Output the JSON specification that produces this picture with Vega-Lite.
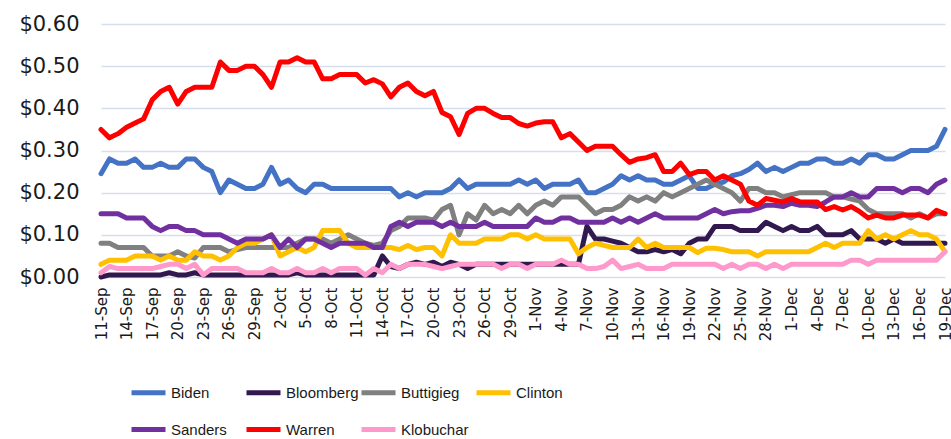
{
  "$schema": "https://vega.github.io/schema/vega-lite/v6.json",
  "width": 844,
  "height": 253,
  "autosize": {"type": "none"},
  "padding": {"left": 101, "top": 24, "right": 6, "bottom": 162},
  "background": "white",
  "config": {"view": {"stroke": null}, "font": "DejaVu Sans"},
  "data": {"values": [
    {"date":"11-Sep","Biden":0.245,"Bloomberg":0,"Buttigieg":0.08,"Clinton":0.03,"Sanders":0.15,"Warren":0.35,"Klobuchar":0.01},
    {"date":"12-Sep","Biden":0.28,"Bloomberg":0.005,"Buttigieg":0.08,"Clinton":0.04,"Sanders":0.15,"Warren":0.33,"Klobuchar":0.025},
    {"date":"13-Sep","Biden":0.27,"Bloomberg":0.005,"Buttigieg":0.07,"Clinton":0.04,"Sanders":0.15,"Warren":0.34,"Klobuchar":0.02},
    {"date":"14-Sep","Biden":0.27,"Bloomberg":0.005,"Buttigieg":0.07,"Clinton":0.04,"Sanders":0.14,"Warren":0.355,"Klobuchar":0.02},
    {"date":"15-Sep","Biden":0.28,"Bloomberg":0.005,"Buttigieg":0.07,"Clinton":0.05,"Sanders":0.14,"Warren":0.365,"Klobuchar":0.02},
    {"date":"16-Sep","Biden":0.26,"Bloomberg":0.005,"Buttigieg":0.07,"Clinton":0.05,"Sanders":0.14,"Warren":0.375,"Klobuchar":0.02},
    {"date":"17-Sep","Biden":0.26,"Bloomberg":0.005,"Buttigieg":0.05,"Clinton":0.05,"Sanders":0.12,"Warren":0.42,"Klobuchar":0.02},
    {"date":"18-Sep","Biden":0.27,"Bloomberg":0.005,"Buttigieg":0.05,"Clinton":0.04,"Sanders":0.11,"Warren":0.44,"Klobuchar":0.025},
    {"date":"19-Sep","Biden":0.26,"Bloomberg":0.01,"Buttigieg":0.05,"Clinton":0.05,"Sanders":0.12,"Warren":0.45,"Klobuchar":0.03},
    {"date":"20-Sep","Biden":0.26,"Bloomberg":0.005,"Buttigieg":0.06,"Clinton":0.04,"Sanders":0.12,"Warren":0.41,"Klobuchar":0.03},
    {"date":"21-Sep","Biden":0.28,"Bloomberg":0.005,"Buttigieg":0.05,"Clinton":0.04,"Sanders":0.11,"Warren":0.44,"Klobuchar":0.02},
    {"date":"22-Sep","Biden":0.28,"Bloomberg":0.01,"Buttigieg":0.045,"Clinton":0.06,"Sanders":0.11,"Warren":0.45,"Klobuchar":0.03},
    {"date":"23-Sep","Biden":0.26,"Bloomberg":0.005,"Buttigieg":0.07,"Clinton":0.05,"Sanders":0.10,"Warren":0.45,"Klobuchar":0.005},
    {"date":"24-Sep","Biden":0.25,"Bloomberg":0.005,"Buttigieg":0.07,"Clinton":0.05,"Sanders":0.10,"Warren":0.45,"Klobuchar":0.02},
    {"date":"25-Sep","Biden":0.20,"Bloomberg":0.005,"Buttigieg":0.07,"Clinton":0.04,"Sanders":0.10,"Warren":0.51,"Klobuchar":0.02},
    {"date":"26-Sep","Biden":0.23,"Bloomberg":0.005,"Buttigieg":0.06,"Clinton":0.05,"Sanders":0.09,"Warren":0.49,"Klobuchar":0.02},
    {"date":"27-Sep","Biden":0.22,"Bloomberg":0.005,"Buttigieg":0.065,"Clinton":0.07,"Sanders":0.08,"Warren":0.49,"Klobuchar":0.02},
    {"date":"28-Sep","Biden":0.21,"Bloomberg":0.005,"Buttigieg":0.07,"Clinton":0.08,"Sanders":0.09,"Warren":0.50,"Klobuchar":0.01},
    {"date":"29-Sep","Biden":0.21,"Bloomberg":0.005,"Buttigieg":0.07,"Clinton":0.08,"Sanders":0.09,"Warren":0.50,"Klobuchar":0.01},
    {"date":"30-Sep","Biden":0.22,"Bloomberg":0.005,"Buttigieg":0.07,"Clinton":0.09,"Sanders":0.09,"Warren":0.48,"Klobuchar":0.01},
    {"date":"1-Oct","Biden":0.26,"Bloomberg":0.005,"Buttigieg":0.07,"Clinton":0.10,"Sanders":0.10,"Warren":0.45,"Klobuchar":0.02},
    {"date":"2-Oct","Biden":0.22,"Bloomberg":0.005,"Buttigieg":0.07,"Clinton":0.05,"Sanders":0.07,"Warren":0.51,"Klobuchar":0.01},
    {"date":"3-Oct","Biden":0.23,"Bloomberg":0.005,"Buttigieg":0.07,"Clinton":0.06,"Sanders":0.09,"Warren":0.51,"Klobuchar":0.01},
    {"date":"4-Oct","Biden":0.21,"Bloomberg":0.01,"Buttigieg":0.08,"Clinton":0.07,"Sanders":0.07,"Warren":0.52,"Klobuchar":0.02},
    {"date":"5-Oct","Biden":0.20,"Bloomberg":0.005,"Buttigieg":0.09,"Clinton":0.06,"Sanders":0.09,"Warren":0.51,"Klobuchar":0.01},
    {"date":"6-Oct","Biden":0.22,"Bloomberg":0.005,"Buttigieg":0.09,"Clinton":0.07,"Sanders":0.09,"Warren":0.51,"Klobuchar":0.01},
    {"date":"7-Oct","Biden":0.22,"Bloomberg":0.005,"Buttigieg":0.09,"Clinton":0.11,"Sanders":0.08,"Warren":0.47,"Klobuchar":0.02},
    {"date":"8-Oct","Biden":0.21,"Bloomberg":0.005,"Buttigieg":0.08,"Clinton":0.11,"Sanders":0.07,"Warren":0.47,"Klobuchar":0.01},
    {"date":"9-Oct","Biden":0.21,"Bloomberg":0.005,"Buttigieg":0.09,"Clinton":0.11,"Sanders":0.08,"Warren":0.48,"Klobuchar":0.02},
    {"date":"10-Oct","Biden":0.21,"Bloomberg":0.005,"Buttigieg":0.10,"Clinton":0.08,"Sanders":0.08,"Warren":0.48,"Klobuchar":0.02},
    {"date":"11-Oct","Biden":0.21,"Bloomberg":0.005,"Buttigieg":0.09,"Clinton":0.07,"Sanders":0.08,"Warren":0.48,"Klobuchar":0.02},
    {"date":"12-Oct","Biden":0.21,"Bloomberg":0.005,"Buttigieg":0.08,"Clinton":0.07,"Sanders":0.08,"Warren":0.46,"Klobuchar":0.005},
    {"date":"13-Oct","Biden":0.21,"Bloomberg":0.005,"Buttigieg":0.075,"Clinton":0.07,"Sanders":0.07,"Warren":0.468,"Klobuchar":0.02},
    {"date":"14-Oct","Biden":0.21,"Bloomberg":0.05,"Buttigieg":0.08,"Clinton":0.07,"Sanders":0.07,"Warren":0.458,"Klobuchar":0.01},
    {"date":"15-Oct","Biden":0.21,"Bloomberg":0.025,"Buttigieg":0.11,"Clinton":0.07,"Sanders":0.12,"Warren":0.427,"Klobuchar":0.03},
    {"date":"16-Oct","Biden":0.19,"Bloomberg":0.02,"Buttigieg":0.12,"Clinton":0.065,"Sanders":0.13,"Warren":0.45,"Klobuchar":0.02},
    {"date":"17-Oct","Biden":0.20,"Bloomberg":0.03,"Buttigieg":0.14,"Clinton":0.075,"Sanders":0.12,"Warren":0.46,"Klobuchar":0.03},
    {"date":"18-Oct","Biden":0.19,"Bloomberg":0.035,"Buttigieg":0.14,"Clinton":0.065,"Sanders":0.13,"Warren":0.44,"Klobuchar":0.03},
    {"date":"19-Oct","Biden":0.20,"Bloomberg":0.03,"Buttigieg":0.14,"Clinton":0.07,"Sanders":0.13,"Warren":0.43,"Klobuchar":0.03},
    {"date":"20-Oct","Biden":0.20,"Bloomberg":0.035,"Buttigieg":0.135,"Clinton":0.07,"Sanders":0.13,"Warren":0.44,"Klobuchar":0.025},
    {"date":"21-Oct","Biden":0.20,"Bloomberg":0.025,"Buttigieg":0.16,"Clinton":0.05,"Sanders":0.12,"Warren":0.39,"Klobuchar":0.02},
    {"date":"22-Oct","Biden":0.21,"Bloomberg":0.035,"Buttigieg":0.17,"Clinton":0.10,"Sanders":0.13,"Warren":0.38,"Klobuchar":0.025},
    {"date":"23-Oct","Biden":0.23,"Bloomberg":0.03,"Buttigieg":0.10,"Clinton":0.08,"Sanders":0.12,"Warren":0.338,"Klobuchar":0.03},
    {"date":"24-Oct","Biden":0.21,"Bloomberg":0.02,"Buttigieg":0.15,"Clinton":0.08,"Sanders":0.12,"Warren":0.388,"Klobuchar":0.03},
    {"date":"25-Oct","Biden":0.22,"Bloomberg":0.03,"Buttigieg":0.135,"Clinton":0.08,"Sanders":0.12,"Warren":0.40,"Klobuchar":0.03},
    {"date":"26-Oct","Biden":0.22,"Bloomberg":0.03,"Buttigieg":0.17,"Clinton":0.09,"Sanders":0.13,"Warren":0.40,"Klobuchar":0.03},
    {"date":"27-Oct","Biden":0.22,"Bloomberg":0.03,"Buttigieg":0.15,"Clinton":0.09,"Sanders":0.12,"Warren":0.388,"Klobuchar":0.03},
    {"date":"28-Oct","Biden":0.22,"Bloomberg":0.03,"Buttigieg":0.16,"Clinton":0.09,"Sanders":0.12,"Warren":0.378,"Klobuchar":0.02},
    {"date":"29-Oct","Biden":0.22,"Bloomberg":0.03,"Buttigieg":0.15,"Clinton":0.10,"Sanders":0.12,"Warren":0.378,"Klobuchar":0.03},
    {"date":"30-Oct","Biden":0.23,"Bloomberg":0.03,"Buttigieg":0.17,"Clinton":0.10,"Sanders":0.12,"Warren":0.364,"Klobuchar":0.03},
    {"date":"31-Oct","Biden":0.22,"Bloomberg":0.03,"Buttigieg":0.15,"Clinton":0.09,"Sanders":0.12,"Warren":0.358,"Klobuchar":0.02},
    {"date":"1-Nov","Biden":0.23,"Bloomberg":0.03,"Buttigieg":0.17,"Clinton":0.10,"Sanders":0.14,"Warren":0.365,"Klobuchar":0.03},
    {"date":"2-Nov","Biden":0.21,"Bloomberg":0.03,"Buttigieg":0.18,"Clinton":0.09,"Sanders":0.13,"Warren":0.368,"Klobuchar":0.03},
    {"date":"3-Nov","Biden":0.22,"Bloomberg":0.03,"Buttigieg":0.17,"Clinton":0.09,"Sanders":0.13,"Warren":0.368,"Klobuchar":0.03},
    {"date":"4-Nov","Biden":0.22,"Bloomberg":0.03,"Buttigieg":0.19,"Clinton":0.09,"Sanders":0.14,"Warren":0.33,"Klobuchar":0.04},
    {"date":"5-Nov","Biden":0.22,"Bloomberg":0.03,"Buttigieg":0.19,"Clinton":0.09,"Sanders":0.14,"Warren":0.34,"Klobuchar":0.03},
    {"date":"6-Nov","Biden":0.23,"Bloomberg":0.03,"Buttigieg":0.19,"Clinton":0.055,"Sanders":0.13,"Warren":0.32,"Klobuchar":0.03},
    {"date":"7-Nov","Biden":0.20,"Bloomberg":0.12,"Buttigieg":0.17,"Clinton":0.07,"Sanders":0.13,"Warren":0.30,"Klobuchar":0.02},
    {"date":"8-Nov","Biden":0.20,"Bloomberg":0.09,"Buttigieg":0.15,"Clinton":0.08,"Sanders":0.13,"Warren":0.31,"Klobuchar":0.02},
    {"date":"9-Nov","Biden":0.21,"Bloomberg":0.09,"Buttigieg":0.16,"Clinton":0.075,"Sanders":0.13,"Warren":0.31,"Klobuchar":0.025},
    {"date":"10-Nov","Biden":0.22,"Bloomberg":0.085,"Buttigieg":0.16,"Clinton":0.07,"Sanders":0.14,"Warren":0.31,"Klobuchar":0.04},
    {"date":"11-Nov","Biden":0.24,"Bloomberg":0.08,"Buttigieg":0.17,"Clinton":0.07,"Sanders":0.13,"Warren":0.29,"Klobuchar":0.02},
    {"date":"12-Nov","Biden":0.23,"Bloomberg":0.07,"Buttigieg":0.19,"Clinton":0.07,"Sanders":0.14,"Warren":0.272,"Klobuchar":0.025},
    {"date":"13-Nov","Biden":0.24,"Bloomberg":0.06,"Buttigieg":0.18,"Clinton":0.09,"Sanders":0.13,"Warren":0.28,"Klobuchar":0.03},
    {"date":"14-Nov","Biden":0.23,"Bloomberg":0.06,"Buttigieg":0.19,"Clinton":0.07,"Sanders":0.14,"Warren":0.283,"Klobuchar":0.02},
    {"date":"15-Nov","Biden":0.23,"Bloomberg":0.065,"Buttigieg":0.18,"Clinton":0.08,"Sanders":0.15,"Warren":0.29,"Klobuchar":0.02},
    {"date":"16-Nov","Biden":0.22,"Bloomberg":0.06,"Buttigieg":0.20,"Clinton":0.07,"Sanders":0.14,"Warren":0.25,"Klobuchar":0.02},
    {"date":"17-Nov","Biden":0.22,"Bloomberg":0.065,"Buttigieg":0.19,"Clinton":0.07,"Sanders":0.14,"Warren":0.25,"Klobuchar":0.03},
    {"date":"18-Nov","Biden":0.23,"Bloomberg":0.055,"Buttigieg":0.20,"Clinton":0.07,"Sanders":0.14,"Warren":0.27,"Klobuchar":0.03},
    {"date":"19-Nov","Biden":0.24,"Bloomberg":0.08,"Buttigieg":0.21,"Clinton":0.07,"Sanders":0.14,"Warren":0.243,"Klobuchar":0.03},
    {"date":"20-Nov","Biden":0.21,"Bloomberg":0.09,"Buttigieg":0.22,"Clinton":0.058,"Sanders":0.14,"Warren":0.25,"Klobuchar":0.03},
    {"date":"21-Nov","Biden":0.21,"Bloomberg":0.09,"Buttigieg":0.23,"Clinton":0.068,"Sanders":0.15,"Warren":0.25,"Klobuchar":0.03},
    {"date":"22-Nov","Biden":0.22,"Bloomberg":0.12,"Buttigieg":0.22,"Clinton":0.068,"Sanders":0.16,"Warren":0.23,"Klobuchar":0.03},
    {"date":"23-Nov","Biden":0.225,"Bloomberg":0.12,"Buttigieg":0.21,"Clinton":0.065,"Sanders":0.15,"Warren":0.24,"Klobuchar":0.02},
    {"date":"24-Nov","Biden":0.24,"Bloomberg":0.12,"Buttigieg":0.20,"Clinton":0.06,"Sanders":0.155,"Warren":0.23,"Klobuchar":0.03},
    {"date":"25-Nov","Biden":0.245,"Bloomberg":0.11,"Buttigieg":0.18,"Clinton":0.06,"Sanders":0.157,"Warren":0.22,"Klobuchar":0.02},
    {"date":"26-Nov","Biden":0.255,"Bloomberg":0.11,"Buttigieg":0.21,"Clinton":0.06,"Sanders":0.157,"Warren":0.18,"Klobuchar":0.03},
    {"date":"27-Nov","Biden":0.27,"Bloomberg":0.11,"Buttigieg":0.21,"Clinton":0.05,"Sanders":0.163,"Warren":0.17,"Klobuchar":0.03},
    {"date":"28-Nov","Biden":0.25,"Bloomberg":0.13,"Buttigieg":0.20,"Clinton":0.06,"Sanders":0.17,"Warren":0.186,"Klobuchar":0.02},
    {"date":"29-Nov","Biden":0.26,"Bloomberg":0.12,"Buttigieg":0.20,"Clinton":0.06,"Sanders":0.17,"Warren":0.182,"Klobuchar":0.03},
    {"date":"30-Nov","Biden":0.25,"Bloomberg":0.11,"Buttigieg":0.19,"Clinton":0.06,"Sanders":0.167,"Warren":0.178,"Klobuchar":0.02},
    {"date":"1-Dec","Biden":0.26,"Bloomberg":0.12,"Buttigieg":0.195,"Clinton":0.06,"Sanders":0.175,"Warren":0.186,"Klobuchar":0.03},
    {"date":"2-Dec","Biden":0.27,"Bloomberg":0.11,"Buttigieg":0.20,"Clinton":0.06,"Sanders":0.17,"Warren":0.178,"Klobuchar":0.03},
    {"date":"3-Dec","Biden":0.27,"Bloomberg":0.11,"Buttigieg":0.20,"Clinton":0.06,"Sanders":0.17,"Warren":0.178,"Klobuchar":0.03},
    {"date":"4-Dec","Biden":0.28,"Bloomberg":0.12,"Buttigieg":0.20,"Clinton":0.07,"Sanders":0.167,"Warren":0.178,"Klobuchar":0.03},
    {"date":"5-Dec","Biden":0.28,"Bloomberg":0.10,"Buttigieg":0.20,"Clinton":0.08,"Sanders":0.178,"Warren":0.16,"Klobuchar":0.03},
    {"date":"6-Dec","Biden":0.27,"Bloomberg":0.10,"Buttigieg":0.19,"Clinton":0.07,"Sanders":0.19,"Warren":0.167,"Klobuchar":0.03},
    {"date":"7-Dec","Biden":0.27,"Bloomberg":0.10,"Buttigieg":0.19,"Clinton":0.08,"Sanders":0.19,"Warren":0.159,"Klobuchar":0.03},
    {"date":"8-Dec","Biden":0.28,"Bloomberg":0.11,"Buttigieg":0.185,"Clinton":0.08,"Sanders":0.20,"Warren":0.167,"Klobuchar":0.04},
    {"date":"9-Dec","Biden":0.27,"Bloomberg":0.09,"Buttigieg":0.18,"Clinton":0.08,"Sanders":0.19,"Warren":0.155,"Klobuchar":0.04},
    {"date":"10-Dec","Biden":0.29,"Bloomberg":0.09,"Buttigieg":0.16,"Clinton":0.11,"Sanders":0.19,"Warren":0.14,"Klobuchar":0.03},
    {"date":"11-Dec","Biden":0.29,"Bloomberg":0.09,"Buttigieg":0.15,"Clinton":0.09,"Sanders":0.21,"Warren":0.147,"Klobuchar":0.04},
    {"date":"12-Dec","Biden":0.28,"Bloomberg":0.08,"Buttigieg":0.15,"Clinton":0.10,"Sanders":0.21,"Warren":0.14,"Klobuchar":0.04},
    {"date":"13-Dec","Biden":0.28,"Bloomberg":0.09,"Buttigieg":0.15,"Clinton":0.09,"Sanders":0.21,"Warren":0.14,"Klobuchar":0.04},
    {"date":"14-Dec","Biden":0.29,"Bloomberg":0.08,"Buttigieg":0.15,"Clinton":0.10,"Sanders":0.20,"Warren":0.147,"Klobuchar":0.04},
    {"date":"15-Dec","Biden":0.30,"Bloomberg":0.08,"Buttigieg":0.14,"Clinton":0.11,"Sanders":0.21,"Warren":0.147,"Klobuchar":0.04},
    {"date":"16-Dec","Biden":0.30,"Bloomberg":0.08,"Buttigieg":0.15,"Clinton":0.10,"Sanders":0.21,"Warren":0.147,"Klobuchar":0.04},
    {"date":"17-Dec","Biden":0.30,"Bloomberg":0.08,"Buttigieg":0.14,"Clinton":0.10,"Sanders":0.20,"Warren":0.14,"Klobuchar":0.04},
    {"date":"18-Dec","Biden":0.31,"Bloomberg":0.08,"Buttigieg":0.15,"Clinton":0.09,"Sanders":0.22,"Warren":0.158,"Klobuchar":0.04},
    {"date":"19-Dec","Biden":0.35,"Bloomberg":0.08,"Buttigieg":0.15,"Clinton":0.06,"Sanders":0.23,"Warren":0.15,"Klobuchar":0.06}
  ]},
  "transform": [
    {"fold": ["Biden","Bloomberg","Buttigieg","Clinton","Sanders","Warren","Klobuchar"], "as": ["candidate","price"]}
  ],
  "mark": {"type": "line", "strokeWidth": 5, "strokeCap": "round", "strokeJoin": "round"},
  "encoding": {
    "x": {
      "field": "date", "type": "ordinal", "sort": null,
      "scale": {"type": "point", "padding": 0},
      "axis": {
        "labelExpr": "indexof(['11-Sep','14-Sep','17-Sep','20-Sep','23-Sep','26-Sep','29-Sep','2-Oct','5-Oct','8-Oct','11-Oct','14-Oct','17-Oct','20-Oct','23-Oct','26-Oct','29-Oct','1-Nov','4-Nov','7-Nov','10-Nov','13-Nov','16-Nov','19-Nov','22-Nov','25-Nov','28-Nov','1-Dec','4-Dec','7-Dec','10-Dec','13-Dec','16-Dec','19-Dec'], datum.value) >= 0 ? datum.label : ''",
        "labelAngle": 270, "labelAlign": "right", "labelBaseline": "middle",
        "labelFontSize": 15, "labelFont": "DejaVu Sans", "labelPadding": 10,
        "labelOverlap": false, "labelFlush": false, "labelBound": false,
        "labelColor": "#1a1a1a", "domain": false, "ticks": false, "grid": false, "title": null
      }
    },
    "y": {
      "field": "price", "type": "quantitative",
      "scale": {"domain": [0, 0.6], "nice": false},
      "axis": {
        "values": [0, 0.1, 0.2, 0.3, 0.4, 0.5, 0.6], "format": "$.2f",
        "labelFontSize": 21, "labelFont": "DejaVu Sans", "labelPadding": 22, "labelColor": "#1a1a1a",
        "domain": false, "ticks": false, "gridColor": "#D5DFEE", "gridWidth": 1.5, "title": null
      }
    },
    "color": {
      "field": "candidate", "type": "nominal",
      "scale": {
        "domain": ["Biden","Bloomberg","Buttigieg","Clinton","Sanders","Warren","Klobuchar"],
        "range": ["#4472C4","#31194F","#808080","#FFC000","#7030A0","#FF0000","#FF99CC"]
      },
      "legend": {
        "title": null, "orient": "none", "legendX": 28, "legendY": 349, "columns": 4, "direction": "horizontal",
        "symbolType": "stroke", "symbolStrokeWidth": 5, "symbolSize": 1156,
        "labelFontSize": 15, "labelFont": "Liberation Sans", "labelColor": "#1a1a1a",
        "labelOffset": 3, "columnPadding": -17, "rowPadding": 7, "gridAlign": "all"
      }
    },
    "order": {"value": null}
  }
}
